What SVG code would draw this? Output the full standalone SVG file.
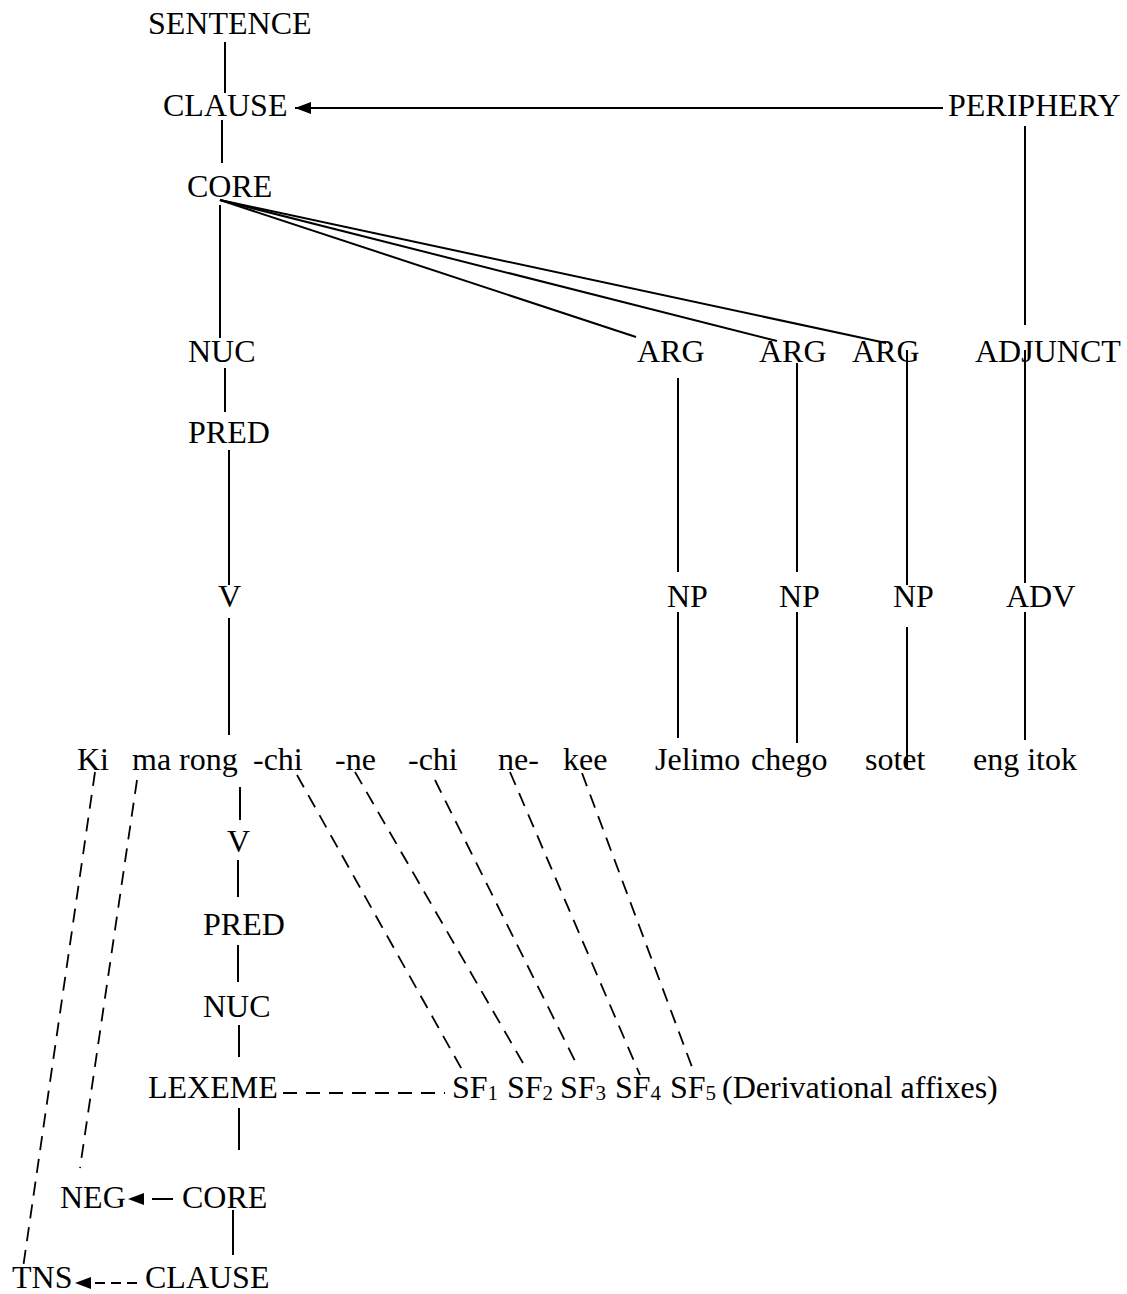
<svg xmlns="http://www.w3.org/2000/svg" width="1127" height="1294" viewBox="0 0 1127 1294">
  <style>
    text { font-family: "Liberation Serif", "Times New Roman", serif; font-size: 32px; fill: #000; }
    .sub { font-size: 21px; }
    .ln { stroke: #000; stroke-width: 2; fill: none; }
    .dash { stroke: #000; stroke-width: 1.8; fill: none; stroke-dasharray: 14 9; }
  </style>
  <defs>
    <marker id="arrow" markerUnits="userSpaceOnUse" markerWidth="17" markerHeight="13" refX="16" refY="6" orient="auto">
      <path d="M0,0 L16,6 L0,12 z" fill="#000"/>
    </marker>
  </defs>
  <rect width="1127" height="1294" fill="#fff"/>

  <!-- connectors -->
  <g id="connectors">
    <!-- upper tree -->
    <line class="ln" x1="225" y1="42" x2="225" y2="93"/>
    <line class="ln" x1="222" y1="120" x2="222" y2="163"/>
    <line class="ln" x1="943" y1="108" x2="295" y2="108" marker-end="url(#arrow)"/>
    <line class="ln" x1="220" y1="205" x2="220" y2="338"/>
    <line class="ln" x1="220" y1="200" x2="636" y2="337"/>
    <line class="ln" x1="220" y1="200" x2="777" y2="341"/>
    <line class="ln" x1="220" y1="200" x2="886" y2="343"/>
    <line class="ln" x1="225" y1="368" x2="225" y2="412"/>
    <line class="ln" x1="229" y1="450" x2="229" y2="585"/>
    <line class="ln" x1="229" y1="618" x2="229" y2="735"/>
    <line class="ln" x1="678" y1="378" x2="678" y2="572"/>
    <line class="ln" x1="797" y1="363" x2="797" y2="572"/>
    <line class="ln" x1="907" y1="350" x2="907" y2="585"/>
    <line class="ln" x1="1025" y1="126" x2="1025" y2="325"/>
    <line class="ln" x1="1025" y1="350" x2="1025" y2="583"/>
    <line class="ln" x1="678" y1="612" x2="678" y2="738"/>
    <line class="ln" x1="797" y1="612" x2="797" y2="743"/>
    <line class="ln" x1="907" y1="627" x2="907" y2="768"/>
    <line class="ln" x1="1025" y1="612" x2="1025" y2="740"/>

    <!-- lower tree -->
    <line class="ln" x1="240" y1="787" x2="240" y2="820"/>
    <line class="ln" x1="238" y1="860" x2="238" y2="897"/>
    <line class="ln" x1="238" y1="945" x2="238" y2="982"/>
    <line class="ln" x1="239" y1="1025" x2="239" y2="1057"/>
    <line class="ln" x1="239" y1="1108" x2="239" y2="1150"/>
    <line class="ln" x1="233" y1="1210" x2="233" y2="1255"/>
    <line class="ln" x1="173" y1="1199" x2="128" y2="1199" stroke-dasharray="21 100" marker-end="url(#arrow)"/>
    <line class="ln" x1="137" y1="1283" x2="75" y2="1283" stroke-dasharray="10 6" marker-end="url(#arrow)"/>

    <!-- operator and affix links -->
    <line class="dash" x1="95" y1="772" x2="23" y2="1268"/>
    <line class="dash" x1="137" y1="780" x2="80" y2="1168"/>
    <line class="dash" x1="283" y1="1093" x2="445" y2="1093" stroke-dasharray="15 8"/>
    <line class="dash" x1="297" y1="775" x2="465" y2="1075"/>
    <line class="dash" x1="355" y1="772" x2="527" y2="1070"/>
    <line class="dash" x1="435" y1="780" x2="578" y2="1067"/>
    <line class="dash" x1="510" y1="772" x2="640" y2="1075"/>
    <line class="dash" x1="582" y1="773" x2="692" y2="1067"/>
  </g>

  <!-- nodes: clause layers -->
  <g id="sentence"><text x="148" y="34">SENTENCE</text></g>
  <g id="clause"><text x="163" y="116">CLAUSE</text></g>
  <g id="periphery"><text x="948" y="116">PERIPHERY</text></g>
  <g id="core"><text x="187" y="197">CORE</text></g>
  <g id="nuc"><text x="188" y="362">NUC</text></g>
  <g id="arg1"><text x="637" y="362">ARG</text></g>
  <g id="arg2"><text x="759" y="362">ARG</text></g>
  <g id="arg3"><text x="852" y="362">ARG</text></g>
  <g id="adjunct"><text x="975" y="362">ADJUNCT</text></g>
  <g id="pred"><text x="188" y="443">PRED</text></g>
  <g id="v"><text x="218" y="607">V</text></g>
  <g id="np1"><text x="667" y="607">NP</text></g>
  <g id="np2"><text x="779" y="607">NP</text></g>
  <g id="np3"><text x="893" y="607">NP</text></g>
  <g id="adv"><text x="1006" y="607">ADV</text></g>

  <!-- nodes: sentence words -->
  <g id="w-ki"><text x="77" y="770">Ki</text></g>
  <g id="w-marong"><text x="132" y="770">ma rong</text></g>
  <g id="w-chi1"><text x="253" y="770">-chi</text></g>
  <g id="w-ne1"><text x="335" y="770">-ne</text></g>
  <g id="w-chi2"><text x="408" y="770">-chi</text></g>
  <g id="w-ne2"><text x="498" y="770">ne-</text></g>
  <g id="w-kee"><text x="563" y="770">kee</text></g>
  <g id="w-jelimo"><text x="655" y="770">Jelimo</text></g>
  <g id="w-chego"><text x="751" y="770">chego</text></g>
  <g id="w-sotet"><text x="865" y="770">sotet</text></g>
  <g id="w-engitok"><text x="973" y="770">eng itok</text></g>

  <!-- nodes: word-internal structure -->
  <g id="v2"><text x="227" y="852">V</text></g>
  <g id="pred2"><text x="203" y="935">PRED</text></g>
  <g id="nuc2"><text x="203" y="1017">NUC</text></g>
  <g id="lexeme"><text x="148" y="1098">LEXEME</text></g>
  <g id="sf1"><text x="452" y="1098">SF<tspan class="sub" dy="2">1</tspan></text></g>
  <g id="sf2"><text x="507" y="1098">SF<tspan class="sub" dy="2">2</tspan></text></g>
  <g id="sf3"><text x="560" y="1098">SF<tspan class="sub" dy="2">3</tspan></text></g>
  <g id="sf4"><text x="615" y="1098">SF<tspan class="sub" dy="2">4</tspan></text></g>
  <g id="sf5"><text x="670" y="1098">SF<tspan class="sub" dy="2">5</tspan></text></g>
  <g id="deriv"><text x="722" y="1098">(Derivational affixes)</text></g>
  <g id="neg"><text x="60" y="1208">NEG</text></g>
  <g id="core2"><text x="182" y="1208">CORE</text></g>
  <g id="tns"><text x="12" y="1288">TNS</text></g>
  <g id="clause2"><text x="145" y="1288">CLAUSE</text></g>
</svg>
